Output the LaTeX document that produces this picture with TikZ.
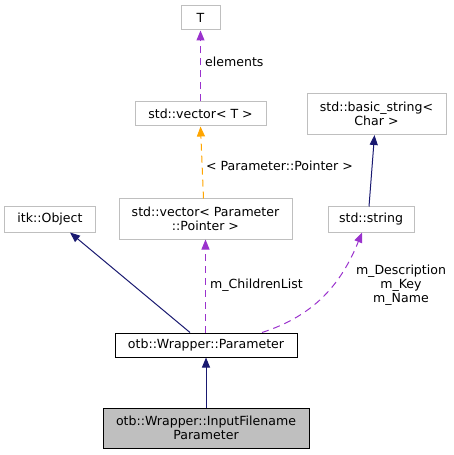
\documentclass[tikz,border=0pt]{standalone}
\usepackage{fontspec}
\setmainfont{DejaVu Sans}
\usetikzlibrary{arrows.meta}
\definecolor{boxgrey}{HTML}{BFBFBF}
\definecolor{navyc}{HTML}{191970}
\definecolor{purp}{HTML}{9A32CD}
\definecolor{orng}{HTML}{FFA500}
\definecolor{fillg}{HTML}{BFBFBF}
\begin{document}
\begin{tikzpicture}[x=1bp,y=-1bp,
  every node/.style={font=\fontsize{12.6}{14.5}\selectfont, inner sep=0pt, align=center},
  gbox/.style={draw=boxgrey, line width=1bp, fill=white, minimum height=24bp},
  kbox/.style={draw=black, line width=1bp, fill=white, minimum height=24bp},
  inh/.style={-{Triangle[length=10bp,width=8bp,fill=navyc]}, draw=navyc, line width=1bp},
  use/.style={-{Triangle[length=10bp,width=8bp,fill=purp]}, draw=purp, line width=1bp, dash pattern=on 7bp off 5bp},
  tmpl/.style={-{Triangle[length=10bp,width=8bp,fill=orng]}, draw=orng, line width=1bp, dash pattern=on 7bp off 5bp},
  lbl/.style={font=\fontsize{12.6}{14}\selectfont}]
\useasboundingbox (0,0) rectangle (454,455);
\node[gbox, minimum width=39bp] (T) at (200.5,18) {T};
\node[gbox, minimum width=131bp] (vecT) at (200.5,114) {std::vector< T >};
\node[gbox, minimum width=139bp, minimum height=41bp] (bstr) at (376.5,114) {std::basic\_string<\\Char >};
\node[gbox, minimum width=86bp, minimum height=25bp] (str) at (371,219.5) {std::string};
\node[gbox, minimum width=90bp, minimum height=25bp] (itk) at (50,219.5) {itk::Object};
\node[gbox, minimum width=173bp, minimum height=40bp] (vecP) at (205.5,219) {std::vector< Parameter\\::Pointer >};
\node[kbox, minimum width=182bp] (param) at (206,345) {otb::Wrapper::Parameter};
\node[kbox, fill=fillg, minimum width=206bp, minimum height=40bp] (inp) at (206,428) {otb::Wrapper::InputFilename\\Parameter};

\draw[use] (vecT.north) -- (T.south);
\node[lbl, anchor=west] (lel) at (205,62) {elements};
\draw[tmpl] ([xshift=-2bp]vecP.north) -- (vecT.south);
\node[lbl, anchor=west] (ltm) at (206,166) {< Parameter::Pointer >};
\draw[inh] ([xshift=-2bp]str.north) -- ([xshift=-2bp]bstr.south);
\draw[inh] ([xshift=-16bp]param.north) -- ([xshift=20bp]itk.south);
\draw[use] (param.north -| vecP.south) -- (vecP.south);
\node[lbl, anchor=west] (lch) at (210,285) {m\_ChildrenList};
\draw[use] ([xshift=56bp]param.north) to[out=18, in=-112] ([xshift=-9bp]str.south);
\node[lbl, align=center] (lmem) at (401,285) {m\_Description\\m\_Key\\m\_Name};
\draw[inh] (inp.north) -- (param.south);
\end{tikzpicture}
\end{document}
